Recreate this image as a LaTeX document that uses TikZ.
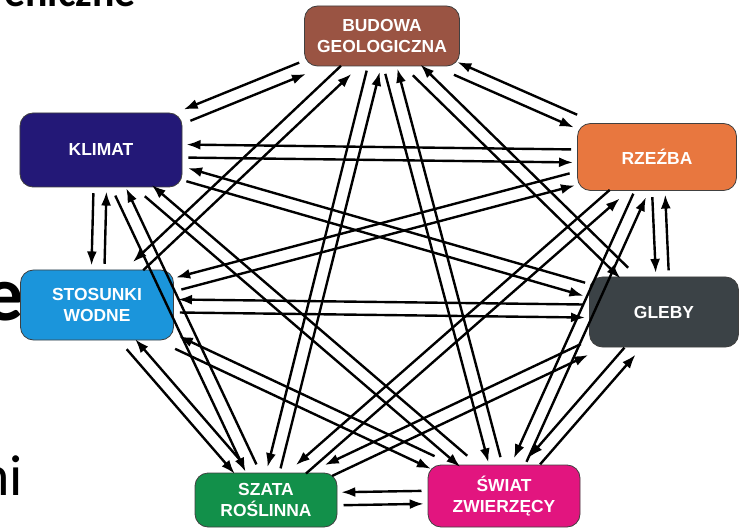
\documentclass[tikz,border=0pt]{standalone}
\usepackage{fontspec}
\setmainfont{Liberation Sans}
\newfontfamily\slidefont{Carlito}
\usetikzlibrary{arrows.meta,calc}

\definecolor{budowacol}{HTML}{9A5443}
\definecolor{klimatcol}{HTML}{231877}
\definecolor{rzezbacol}{HTML}{E8773F}
\definecolor{wodacol}{HTML}{1B95DB}
\definecolor{glebycol}{HTML}{3B4246}
\definecolor{szatacol}{HTML}{12904A}
\definecolor{swiatcol}{HTML}{E2157F}

\tikzset{
  box/.style={rectangle, rounded corners=13bp, draw=black!75, line width=0.8bp,
    text=white, font=\bfseries\fontsize{17.5}{20.5}\selectfont, align=center, inner sep=0pt},
  link/.style={line width=2.4bp, -{Latex[length=14bp,width=10bp]},
    shorten >=4bp, shorten <=6bp},
}

% two opposite arrows between two boxes, each kept on its own right side
\newcommand{\twoway}[2]{%
  \path (#1) -- coordinate[pos=0] (p) coordinate[pos=1] (q) (#2);
  \draw[link] ($(p)!6.5bp!-90:(q)$) -- ($(q)!6.5bp!90:(p)$);
  \draw[link] ($(q)!6.5bp!-90:(p)$) -- ($(p)!6.5bp!90:(q)$);
}

\begin{document}
\begin{tikzpicture}[x=1bp,y=-1bp]
  \useasboundingbox[fill=white] (0,0) rectangle (739,531);

  % bits of the slide behind the picture
  \begin{scope}
    \clip (0,0) rectangle (739,7.5);
    \node[anchor=base east, inner sep=0pt, font=\slidefont\bfseries\fontsize{42}{42}\selectfont] (slidetitle) at (136,6.5) {eniczne};
  \end{scope}
  \node[anchor=base east, inner sep=0pt, font=\slidefont\bfseries\fontsize{78}{78}\selectfont] (slidee) at (24,320) {e};
  \node[anchor=base east, inner sep=0pt, font=\slidefont\fontsize{58}{58}\selectfont] (slideni) at (23,495) {ni};

  \begin{scope}[every node/.style={box}]
    \node[fill=budowacol, minimum width=155bp, minimum height=60bp] (budowa) at (382,36) {BUDOWA\\GEOLOGICZNA};
    \node[fill=klimatcol, minimum width=162bp, minimum height=74bp] (klimat) at (101,150) {KLIMAT};
    \node[fill=rzezbacol, minimum width=159bp, minimum height=67bp] (rzezba) at (657,157) {RZEŹBA};
    \node[fill=wodacol, minimum width=153bp, minimum height=70bp] (woda) at (97,305) {STOSUNKI\\WODNE};
    \node[fill=glebycol, minimum width=149bp, minimum height=70bp] (gleby) at (664,312) {GLEBY};
    \node[fill=szatacol, minimum width=142bp, minimum height=54bp] (szata) at (266,500) {SZATA\\ROŚLINNA};
    \node[fill=swiatcol, minimum width=152bp, minimum height=62bp] (swiat) at (504,496) {ŚWIAT\\ZWIERZĘCY};
  \end{scope}

  \foreach \a/\b in {budowa/klimat, budowa/rzezba, budowa/woda, budowa/gleby,
      budowa/szata, budowa/swiat, klimat/rzezba, klimat/woda, klimat/gleby,
      klimat/szata, klimat/swiat, rzezba/woda, rzezba/gleby, rzezba/szata,
      rzezba/swiat, woda/gleby, woda/szata, woda/swiat, gleby/szata,
      gleby/swiat, szata/swiat}
    {\twoway{\a}{\b}}

\end{tikzpicture}
\end{document}
